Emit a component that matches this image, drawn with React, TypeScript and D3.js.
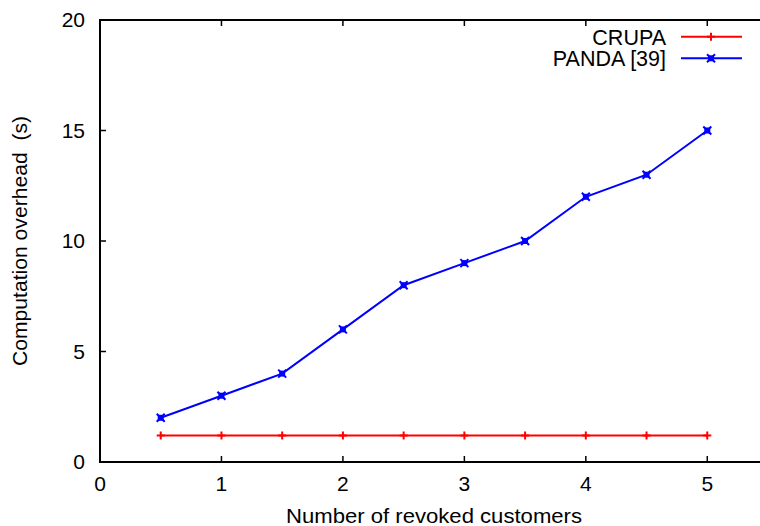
import React from "react";
import * as d3 from "d3";

const xs = [0.5, 1, 1.5, 2, 2.5, 3, 3.5, 4, 4.5, 5];
const crupa = [1.2, 1.2, 1.2, 1.2, 1.2, 1.2, 1.2, 1.2, 1.2, 1.2];
const panda = [2, 3, 4, 6, 8, 9, 10, 12, 13, 15];
const xTicks = [0, 1, 2, 3, 4, 5];
const yTicks = [0, 5, 10, 15, 20];
const seriesNames = ["CRUPA", "PANDA [39]"];

const W = 760, H = 526;
const L = 100, R = 768, T = 20, B = 462;

export default function App() {
  const x = d3.scaleLinear().domain([0, 5.5]).range([L, R]);
  const y = d3.scaleLinear().domain([0, 20]).range([B, T]);
  const line = d3.line<[number, number]>().x(d => x(d[0])).y(d => y(d[1]));
  const cData: [number, number][] = xs.map((v, i) => [v, crupa[i]]);
  const pData: [number, number][] = xs.map((v, i) => [v, panda[i]]);
  const font = "'Liberation Sans', Arial, Helvetica, sans-serif";
  const plus = (cx: number, cy: number, k: string) => (
    <g key={k} stroke="#ff0000" strokeWidth={2}>
      <line x1={cx - 4} x2={cx + 4} y1={cy} y2={cy} />
      <line x1={cx} x2={cx} y1={cy - 4} y2={cy + 4} />
    </g>
  );
  const star = (cx: number, cy: number, k: string) => (
    <g key={k} stroke="#0000ff" strokeWidth={2}>
      <line x1={cx - 4} x2={cx + 4} y1={cy - 4} y2={cy + 4} />
      <line x1={cx - 4} x2={cx + 4} y1={cy + 4} y2={cy - 4} />
      <rect x={cx - 3} y={cy - 3} width={6} height={6} fill="#0000ff" strokeWidth={0} />
    </g>
  );
  return (
    <svg width={W} height={H} style={{ position: "absolute", left: 0, top: 0, background: "#fff" }}
      fontFamily={font} fontSize={21}>
      <rect x={0} y={0} width={W} height={H} fill="#fff" />
      {xTicks.map(t => (
        <g key={"xt" + t} stroke="#000" strokeWidth={1.5}>
          <line x1={x(t)} x2={x(t)} y1={B} y2={B - 6} />
          <line x1={x(t)} x2={x(t)} y1={T} y2={T + 6} />
        </g>
      ))}
      {yTicks.map(t => (
        <g key={"yt" + t} stroke="#000" strokeWidth={1.5}>
          <line x1={L} x2={L + 6} y1={y(t)} y2={y(t)} />
          <line x1={R} x2={R - 6} y1={y(t)} y2={y(t)} />
        </g>
      ))}
      <rect x={L} y={T} width={R - L} height={B - T} fill="none" stroke="#000" strokeWidth={2} />
      {xTicks.map(t => (
        <text key={"xl" + t} x={x(t)} y={491} textAnchor="middle">{t}</text>
      ))}
      {yTicks.map(t => (
        <text key={"yl" + t} x={85} y={y(t) + 7} textAnchor="end">{t}</text>
      ))}
      <text x={434} y={523} textAnchor="middle" textLength={296} lengthAdjust="spacingAndGlyphs">Number of revoked customers</text>
      <text transform={`translate(27,${(T + B) / 2}) rotate(-90)`} textAnchor="middle"
        textLength={250} lengthAdjust="spacingAndGlyphs">{"Computation overhead\u00a0\u00a0(s)"}</text>
      <path d={line(cData) || ""} fill="none" stroke="#ff0000" strokeWidth={2} />
      {cData.map((d, i) => plus(x(d[0]), y(d[1]), "c" + i))}
      <path d={line(pData) || ""} fill="none" stroke="#0000ff" strokeWidth={2} />
      {pData.map((d, i) => star(x(d[0]), y(d[1]), "p" + i))}
      <text x={666} y={44.5} textAnchor="end" fontSize={21.5}>{seriesNames[0]}</text>
      <line x1={681} x2={742} y1={36.7} y2={36.7} stroke="#ff0000" strokeWidth={2} />
      {plus(711, 36.7, "lc")}
      <text x={666} y={66.3} textAnchor="end" fontSize={21.5}>{seriesNames[1]}</text>
      <line x1={681} x2={742} y1={58.3} y2={58.3} stroke="#0000ff" strokeWidth={2} />
      {star(711, 58.3, "lp")}
    </svg>
  );
}
